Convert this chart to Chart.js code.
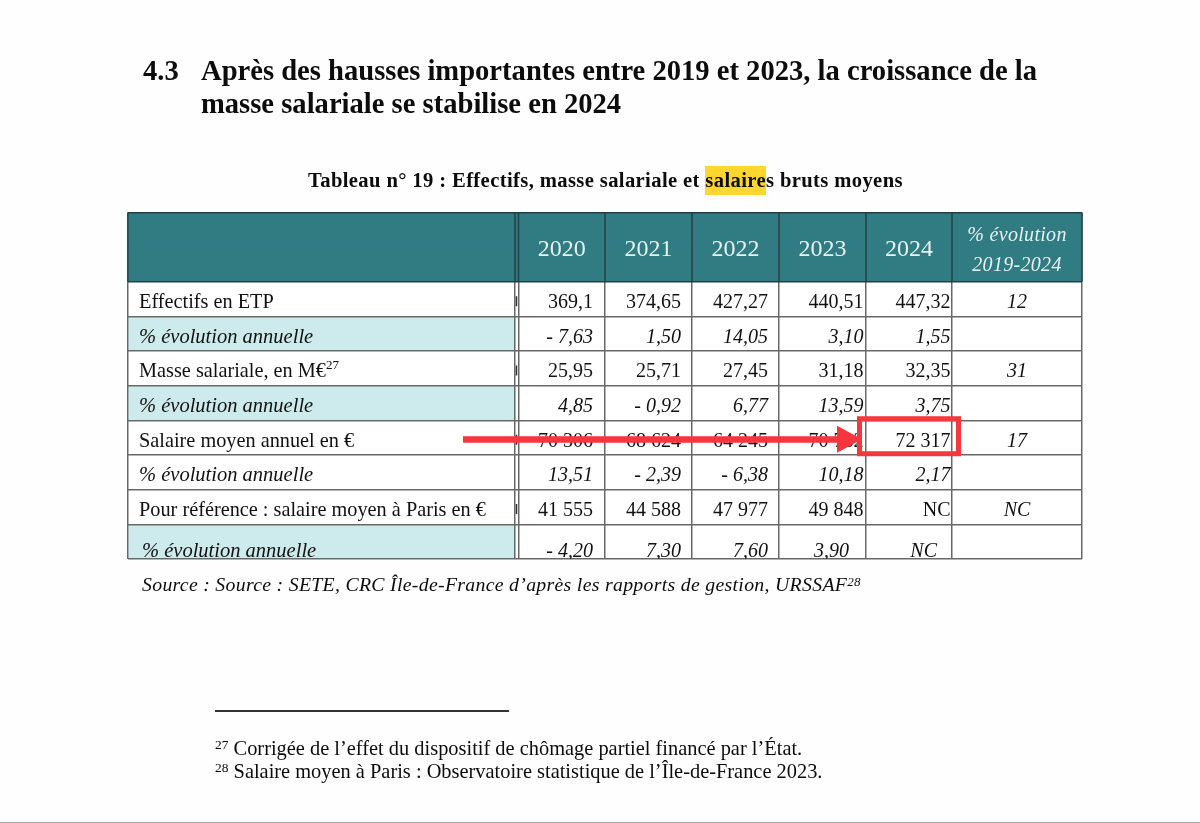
<!DOCTYPE html>
<html lang="fr">
<head>
<meta charset="utf-8">
<title>Tableau n° 19</title>
<script src="https://cdn.jsdelivr.net/npm/chart.js@4"></script>
<style>
html,body{margin:0;padding:0;background:#fefefe;width:1200px;height:823px;overflow:hidden}
body{position:relative;font-family:"Liberation Serif",serif;color:#0c0c0c}
canvas{position:absolute;left:0;top:0}
.t{position:absolute;white-space:nowrap;line-height:1}
.h{font-weight:bold;font-size:28.6px}
.cap{font-weight:bold;font-size:20.6px;letter-spacing:.38px}
.cap mark{background:#fdd62e;color:inherit;padding:3px 0 4px}
.src{font-style:italic;font-size:19.8px;letter-spacing:.3px}
.fn{font-size:20.4px}
sup{font-size:.66em;line-height:0;vertical-align:baseline;position:relative;top:-.42em}
#rule{position:absolute;left:215px;top:710px;width:294px;height:2px;background:#333}
#edge{position:absolute;left:0;top:822px;width:1200px;height:1px;background:#aaa}
</style>
</head>
<body>
<canvas id="c" width="1200" height="823"></canvas>
<div class="t h" style="left:143px;top:57px">4.3</div>
<div class="t h" style="left:201px;top:57px">Après des hausses importantes entre 2019 et 2023, la croissance de la</div>
<div class="t h" style="left:201px;top:90px">masse salariale se stabilise en 2024</div>
<div class="t cap" style="left:308px;top:170px">Tableau n° 19 : Effectifs, masse salariale et <mark>salaire</mark>s bruts moyens</div>
<div class="t src" style="left:142px;top:575px">Source : Source : SETE, CRC Île-de-France d’après les rapports de gestion, URSSAF<sup>28</sup></div>
<div id="rule"></div>
<div class="t fn" style="left:215px;top:738px"><sup>27</sup> Corrigée de l’effet du dispositif de chômage partiel financé par l’État.</div>
<div class="t fn" style="left:215px;top:761px"><sup>28</sup> Salaire moyen à Paris : Observatoire statistique de l’Île-de-France 2023.</div>
<div id="edge"></div>
<script>
// ---- Table content ----
const years = ['2020', '2021', '2022', '2023', '2024'];
const evolutionHeader = ['% évolution', '2019-2024'];
const rowLabels = [
  'Effectifs en ETP', '% évolution annuelle',
  'Masse salariale, en M€', '% évolution annuelle',
  'Salaire moyen annuel en €', '% évolution annuelle',
  'Pour référence : salaire moyen à Paris en €', '% évolution annuelle'
];
const effectifs     = ['369,1', '374,65', '427,27', '440,51', '447,32', '12'];
const effectifsEvol = ['- 7,63', '1,50', '14,05', '3,10', '1,55', ''];
const masse         = ['25,95', '25,71', '27,45', '31,18', '32,35', '31'];
const masseEvol     = ['4,85', '- 0,92', '6,77', '13,59', '3,75', ''];
const salaire       = ['70 306', '68 624', '64 245', '70 782', '72 317', '17'];
const salaireEvol   = ['13,51', '- 2,39', '- 6,38', '10,18', '2,17', ''];
const paris         = ['41 555', '44 588', '47 977', '49 848', 'NC', 'NC'];
const parisEvol     = ['- 4,20', '7,30', '7,60', '3,90', 'NC', ''];

// ---- Layout (table units = px) ----
const columnWidths = [387, 3.5, 86.5, 87, 87, 87, 86, 130];
const TEAL = '#317b83', AQUA = '#cdeaec', WHITE = '#ffffff';
const rows = [effectifs, effectifsEvol, masse, masseEvol, salaire, salaireEvol, paris, parisEvol];
const slots = ['en-tête', 'en-tête ', ...rowLabels.map((l, i) => l + ' #' + i)];
const edges = columnWidths.reduce((a, w) => (a.push(a[a.length - 1] + w), a), [0]);
const serif = '"Liberation Serif", serif';

const fillFor = col => slots.map((_, s) => {
  if (s < 2) return TEAL;
  if (col === 0 && [3, 5, 9].includes(s)) return AQUA;
  return WHITE;
});

const tablePlugin = {
  id: 'tableText',
  afterDraw(chart) {
    const { ctx, scales: { x, y }, chartArea: a } = chart;
    const X = v => x.getPixelForValue(v);
    const Y = s => y.getPixelForValue(s);
    ctx.save();
    // header verticals + outline, darker than the body grid
    ctx.strokeStyle = '#1d4349'; ctx.lineWidth = 1.5;
    const headBottom = (Y(1) + Y(2)) / 2;
    ctx.beginPath();
    edges.forEach(e => { ctx.moveTo(X(e), a.top); ctx.lineTo(X(e), headBottom); });
    ctx.stroke();
    // fragments in the spacer column
    ctx.strokeStyle = '#333'; ctx.lineWidth = 1.5;
    ctx.beginPath();
    [2, 4, 6, 8].forEach(s => {
      const m = X(edges[1]) + 1.5;
      ctx.moveTo(m, Y(s) - 3); ctx.lineTo(m, Y(s) + 7);
    });
    ctx.stroke();

    ctx.beginPath(); ctx.rect(a.left, a.top, a.right - a.left, a.bottom - a.top); ctx.clip();
    ctx.textBaseline = 'alphabetic';

    // header
    const yearColumns = [2, 3, 4, 5, 6];
    ctx.fillStyle = '#e6f2f3'; ctx.textAlign = 'center';
    ctx.font = '24px ' + serif;
    const headMid = (a.top + headBottom) / 2;
    years.forEach((t, i) => ctx.fillText(t, (X(edges[yearColumns[i]]) + X(edges[yearColumns[i] + 1])) / 2, headMid + 9));
    ctx.font = 'italic 20px ' + serif;
    ctx.letterSpacing = '.3px';
    const evoMid = (X(edges[7]) + X(edges[8])) / 2;
    ctx.fillText(evolutionHeader[0], evoMid, a.top + 28);
    ctx.fillText(evolutionHeader[1], evoMid, a.top + 58);
    ctx.letterSpacing = '0px';

    // body
    ctx.fillStyle = '#111';
    rows.forEach((vals, r) => {
      const s = r + 2, italic = r % 2 === 1, last = r === rows.length - 1;
      const base = Y(s) + (last ? 15 : 9);
      ctx.font = (italic ? 'italic 20.5px ' : '20.3px ') + serif;
      ctx.textAlign = 'left';
      const lx = X(edges[0]) + (last ? 14 : 11);
      ctx.fillText(rowLabels[r], lx, base);
      if (r === 2) {
        const w = ctx.measureText(rowLabels[r]).width;
        ctx.font = '13px ' + serif;
        ctx.fillText('27', lx + w, base - 8);
      }
      vals.forEach((t, c) => {
        const col = c + 2, right = X(edges[col + 1]);
        if (c === 5) {
          ctx.textAlign = 'center';
          ctx.font = 'italic 20px ' + serif;
          ctx.fillText(t, (X(edges[col]) + right) / 2, base);
          return;
        }
        ctx.font = (italic ? 'italic ' : '') + '20px ' + serif;
        ctx.textAlign = 'right';
        let pad = c === 0 ? 12 : c === 3 ? 2.5 : c === 4 ? 1.5 : 11;
        if (last && c === 3) pad = 17;
        if (last && c === 4) pad = 15;
        ctx.fillText(t, right - pad, base);
      });
    });
    ctx.restore();

    // red call-out: arrow along the salary row, box on its 2024 cell
    const RED = '#f7353f';
    const rowSlot = 6, col2024 = 6;
    const rowY = Y(rowSlot) + 1.5;
    const tip = X(edges[col2024]) - 4, headStart = tip - 25;
    ctx.save();
    ctx.fillStyle = RED;
    ctx.fillRect(X(335), rowY - 3, headStart - X(335) + 1, 6.5);
    ctx.beginPath();
    ctx.moveTo(headStart, rowY - 13.5);
    ctx.lineTo(tip, rowY);
    ctx.lineTo(headStart, rowY + 13.5);
    ctx.closePath(); ctx.fill();
    ctx.strokeStyle = '#f5383b'; ctx.lineWidth = 5;
    ctx.strokeRect(X(edges[col2024]) - 6.5, Y(rowSlot) - 19, X(edges[col2024 + 1]) - X(edges[col2024]) + 13, 35);
    ctx.restore();
  }
};

new Chart(document.getElementById('c'), {
  type: 'bar',
  data: {
    labels: slots,
    datasets: columnWidths.map((w, col) => ({
      label: col === 0 ? 'Libellé' : col === 1 ? '' : col === 7 ? evolutionHeader.join(' ') : years[col - 2],
      data: slots.map(() => w),
      backgroundColor: fillFor(col),
      borderWidth: 0,
      barPercentage: 1,
      categoryPercentage: 1
    }))
  },
  options: {
    indexAxis: 'y',
    responsive: false,
    animation: false,
    devicePixelRatio: 1,
    layout: { padding: { left: 128, right: 118, top: 212.5, bottom: 264 } },
    plugins: { legend: { display: false }, tooltip: { enabled: false }, title: { display: false } },
    scales: {
      x: {
        type: 'linear', stacked: true, min: 0, max: edges[edges.length - 1],
        afterBuildTicks: s => { s.ticks = edges.map(v => ({ value: v })); },
        ticks: { display: false },
        border: { display: false },
        grid: { z: 1, color: '#686868', lineWidth: 1.5, drawTicks: false }
      },
      y: {
        type: 'category', stacked: true,
        ticks: { display: false, autoSkip: false },
        border: { display: false },
        grid: {
          z: 1, drawTicks: false,
          color: c => c.index === 1 ? 'rgba(0,0,0,0)' : (c.index === 0 || c.index === 2) ? '#1d4349' : '#686868',
          lineWidth: c => c.index === 1 ? 0 : 1.5
        }
      }
    }
  },
  plugins: [tablePlugin]
});
</script>
</body>
</html>
